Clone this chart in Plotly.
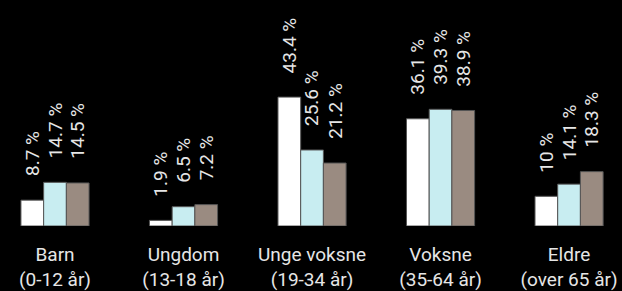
import plotly.graph_objects as go

categories = ["Barn<br>(0-12 år)", "Ungdom<br>(13-18 år)", "Unge voksne<br>(19-34 år)",
              "Voksne<br>(35-64 år)", "Eldre<br>(over 65 år)"]
series_names = ["Serie 1", "Serie 2", "Serie 3"]
values_1 = [8.7, 1.9, 43.4, 36.1, 10]
values_2 = [14.7, 6.5, 25.6, 39.3, 14.1]
values_3 = [14.5, 7.2, 21.2, 38.9, 18.3]
colors = ["#ffffff", "#c8edf1", "#9a8b81"]

all_values = [values_1, values_2, values_3]

FONT = "Roboto"
TXT = "#e6e6e6"

fig = go.Figure()
for name, vals, col in zip(series_names, all_values, colors):
    fig.add_trace(go.Bar(
        x=categories, y=vals, name=name,
        marker=dict(color=col, line=dict(color="#555555", width=1)),
    ))

# value labels
bar_px = 22.7
for i, vals in enumerate(all_values):
    for cat, v in zip(categories, vals):
        fig.add_annotation(
            x=cat, y=v, xref="x", yref="y",
            text=f"{v:g} %", showarrow=False, textangle=-90,
            xanchor="center", yanchor="bottom",
            xshift=(i - 1) * bar_px, yshift=22,
            font=dict(family=FONT, size=19, color=TXT),
        )

fig.update_layout(
    width=622, height=291,
    paper_bgcolor="#000000", plot_bgcolor="#000000",
    margin=dict(l=0, r=0, t=0, b=65, autoexpand=False),
    barmode="group", bargap=0.47, bargroupgap=0,
    showlegend=False,
    font=dict(family=FONT, size=19, color=TXT),
)
fig.update_xaxes(range=[-0.428, 4.412], showgrid=False, zeroline=False, showline=False,
                 automargin=False,
                 ticks="outside", ticklen=11, tickcolor="rgba(0,0,0,0)",
                 tickfont=dict(family=FONT, size=19, color=TXT))
fig.update_yaxes(range=[0, 76.1], visible=False, automargin=False)

fig.write_html("out.html", config={"displayModeBar": False},
               post_script="document.body.style.margin='0';document.body.style.background='#000';document.body.style.overflow='hidden';")
